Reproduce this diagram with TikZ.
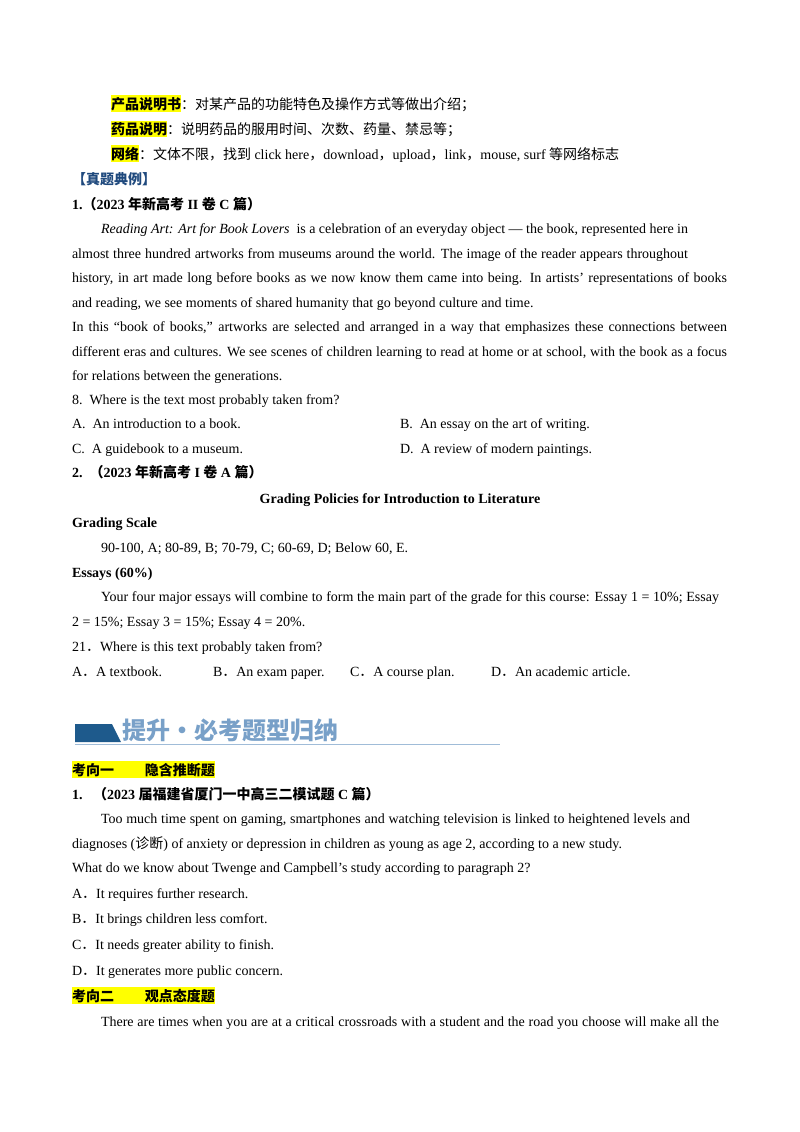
\documentclass[tikz,border=0pt]{standalone}
\usepackage{fontspec}
\setmainfont{Liberation Serif}
\newfontfamily\cjk{Noto Sans CJK SC}
\definecolor{hl}{RGB}{255,255,0}
\definecolor{ttl}{RGB}{31,73,125}
\definecolor{ban}{RGB}{120,160,200}
\definecolor{bandark}{RGB}{30,90,140}
\newcommand{\C}[1]{{\cjk #1}}
\newcommand{\J}[2]{\hbox to #1pt{#2}}
\begin{document}
\begin{tikzpicture}[x=1pt,y=-1pt,
  every node/.style={inner sep=0pt,outer sep=0pt,anchor=base west,font=\fontsize{14}{16}\selectfont},
  hlbox/.style={fill=hl,inner ysep=1.5pt,font=\fontsize{14}{16}\selectfont\bfseries}]
\useasboundingbox (0,0) rectangle (800,1132);
\node[hlbox] (l1) at (111,109) {\C{产品说明书}};
\node (l1b) at (l1.base east) {\C{：对某产品的功能特色及操作方式等做出介绍；}};
\node[hlbox] (l2) at (111,134) {\C{药品说明}};
\node (l2b) at (l2.base east) {\C{：说明药品的服用时间、次数、药量、禁忌等；}};
\node[hlbox] (l3) at (111,159) {\C{网络}};
\node (l3b) at (l3.base east) {\C{：文体不限，找到} click here\C{，}download\C{，}upload\C{，}link\C{，}mouse, surf \C{等网络标志}};
\node[text=ttl,font=\fontsize{14}{16}\selectfont\bfseries] (h1) at (72,184) {\C{【真题典例】}};
\node[font=\fontsize{14}{16}\selectfont\bfseries] (q1) at (72,209) {1.\C{（}2023 \C{年新高考} II \C{卷} C \C{篇）}};
\node (p1) at (101,233) {\J{587}{\textit{Reading Art: Art for Book Lovers} \ is a celebration of an everyday object --- the book, represented here in}};
\node (p2) at (72,258) {\J{616}{almost three hundred artworks from museums around the world. The image of the reader appears throughout}};
\node (p3) at (72,282) {\J{655}{history, in art made long before books as we now know them came into being. In artists’ representations of books}};
\node (p4) at (72,307) {and reading, we see moments of shared humanity that go beyond culture and time.};
\node (p5) at (72,331) {\J{655}{In this “book of books,” artworks are selected and arranged in a way that emphasizes these connections between}};
\node (p6) at (72,356) {\J{655}{different eras and cultures. We see scenes of children learning to read at home or at school, with the book as a focus}};
\node (p7) at (72,380) {for relations between the generations.};
\node (p8) at (72,404) {8.\ \ Where is the text most probably taken from?};
\node (oa) at (72,428) {A.\ \ An introduction to a book.};
\node (ob) at (400,428) {B.\ \ An essay on the art of writing.};
\node (oc) at (72,453) {C.\ \ A guidebook to a museum.};
\node (od) at (400,453) {D.\ \ A review of modern paintings.};
\node[font=\fontsize{14}{16}\selectfont\bfseries] (q2) at (72,477) {2.\ \ \C{（}2023 \C{年新高考} I \C{卷} A \C{篇）}};
\node[anchor=base,font=\fontsize{14}{16}\selectfont\bfseries] (gt) at (400,503) {Grading Policies for Introduction to Literature};
\node[font=\fontsize{14}{16}\selectfont\bfseries] (gs) at (72,527) {Grading Scale};
\node (g1) at (101,552) {90-100, A; 80-89, B; 70-79, C; 60-69, D; Below 60, E.};
\node[font=\fontsize{14}{16}\selectfont\bfseries] (es) at (72,577) {Essays (60\%)};
\node (e1) at (101,601) {\J{618}{Your four major essays will combine to form the main part of the grade for this course: Essay 1 = 10\%; Essay}};
\node (e2) at (72,626) {2 = 15\%; Essay 3 = 15\%; Essay 4 = 20\%.};
\node (e3) at (72,651) {21\C{．}Where is this text probably taken from?};
\node (ea) at (72,676) {A\C{．}A textbook.};
\node (eb) at (213,676) {B\C{．}An exam paper.};
\node (ec) at (350,676) {C\C{．}A course plan.};
\node (ed) at (491,676) {D\C{．}An academic article.};
% banner
\fill[bandark] (75,724) -- (112,724) -- (121,742) -- (75,742) -- cycle;
\draw[ban!70,line width=1pt] (75,744) -- (500,744);
\node[text=ban,font=\fontsize{24}{26}\selectfont\bfseries] (bt) at (122,739) {\C{提升·必考题型归纳}};
\node[hlbox] (k1) at (72,775) {\C{考向一\hspace{2.2em}隐含推断题}};
\node[font=\fontsize{14}{16}\selectfont\bfseries] (q3) at (72,799) {1.\ \ \ \C{（}2023 \C{届福建省厦门一中高三二模试题} C \C{篇）}};
\node (t1) at (101,823) {\J{589}{Too much time spent on gaming, smartphones and watching television is linked to heightened levels and}};
\node (t2) at (72,848) {diagnoses (\C{诊断}) of anxiety or depression in children as young as age 2, according to a new study.};
\node (t3) at (72,872) {What do we know about Twenge and Campbell’s study according to paragraph 2?};
\node (ta) at (72,898) {A\C{．}It requires further research.};
\node (tb) at (72,923) {B\C{．}It brings children less comfort.};
\node (tc) at (72,949) {C\C{．}It needs greater ability to finish.};
\node (td) at (72,975) {D\C{．}It generates more public concern.};
\node[hlbox] (k2) at (72,1001) {\C{考向二\hspace{2.2em}观点态度题}};
\node (u1) at (101,1026) {\J{618}{There are times when you are at a critical crossroads with a student and the road you choose will make all the}};
\end{tikzpicture}
\end{document}
